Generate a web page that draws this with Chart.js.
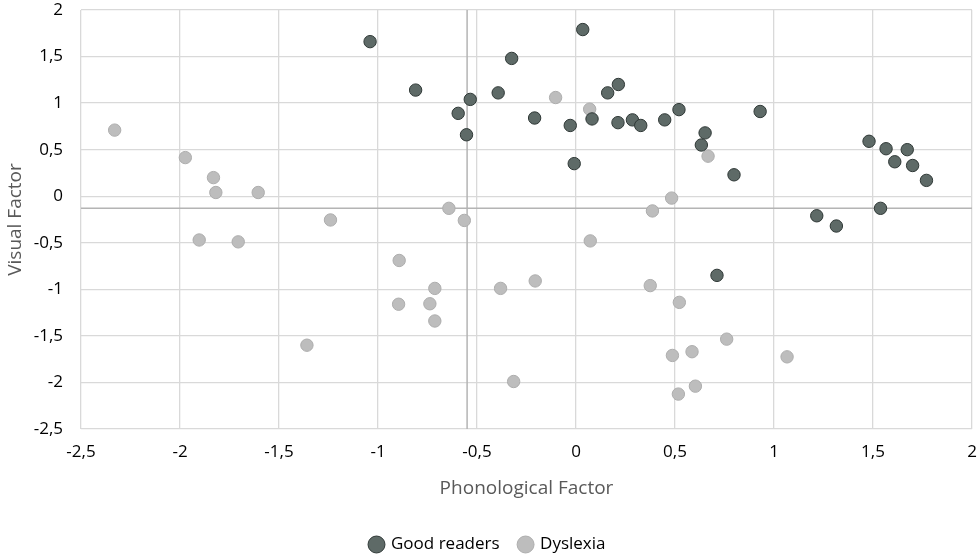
<!DOCTYPE html>
<html>
<head>
<meta charset="utf-8">
<script src="https://cdn.jsdelivr.net/npm/chart.js@4"></script>
<style>
  html, body { margin: 0; padding: 0; background: #fff; }
  #wrap { width: 980px; height: 558px; }
</style>
</head>
<body>
<div id="wrap"><canvas id="chart"></canvas></div>
<script>
// Good readers: phonological (x) and visual (y) factor scores
const goodX = [-1.04, -0.81, -0.595, -0.534, -0.553, -0.393, -0.325, -0.209, -0.029, -0.009, 0.034,
  0.081, 0.16, 0.214, 0.212, 0.285, 0.327, 0.448, 0.52, 0.652, 0.633, 0.798, 0.93, 1.216, 1.315,
  1.48, 1.566, 1.538, 1.61, 1.673, 1.70, 1.77, 0.712];
const goodY = [1.66, 1.14, 0.89, 1.04, 0.66, 1.11, 1.48, 0.84, 0.76, 0.35, 1.79,
  0.83, 1.11, 1.20, 0.79, 0.82, 0.76, 0.82, 0.93, 0.68, 0.55, 0.23, 0.91, -0.21, -0.32,
  0.59, 0.51, -0.13, 0.37, 0.50, 0.33, 0.17, -0.85];

// Dyslexia group
const dysX = [-2.33, -1.973, -1.831, -1.819, -1.605, -1.903, -1.706, -1.24, -0.642, -0.564, -0.103,
  0.069, 0.072, -0.893, -0.206, 0.386, 0.483, 0.667, -1.359, -0.713, -0.896, -0.738, -0.713,
  -0.381, -0.315, 0.375, 0.522, 0.761, 0.487, 0.586, 1.066, 0.603, 0.517];
const dysY = [0.71, 0.415, 0.20, 0.04, 0.04, -0.47, -0.49, -0.255, -0.13, -0.26, 1.06,
  0.935, -0.48, -0.69, -0.91, -0.158, -0.02, 0.43, -1.60, -0.99, -1.16, -1.155, -1.34,
  -0.99, -1.99, -0.96, -1.14, -1.535, -1.71, -1.67, -1.725, -2.04, -2.125];

// group means (reference lines)
const meanX = -0.55;
const meanY = -0.13;

// axis ranges
const xMin = -2.5, xMax = 2;
const yMin = -2.5, yMax = 2;

function toPoints(xs, ys) {
  return xs.map((x, i) => ({ x: x, y: ys[i] }));
}

// decimal comma like the original
function commaTick(v) {
  return String(v).replace('.', ',');
}

const font = "'Open Sans', 'Noto Sans', sans-serif";

const config = {
  type: 'scatter',
  data: {
    datasets: [
      {
        label: 'Good readers',
        data: toPoints(goodX, goodY),
        backgroundColor: '#5e6a67',
        borderColor: '#2f3836',
        borderWidth: 1,
        pointRadius: 6.2,
        order: 1
      },
      {
        label: 'Dyslexia',
        data: toPoints(dysX, dysY),
        backgroundColor: '#bdbdbd',
        borderColor: '#adadad',
        borderWidth: 1,
        pointRadius: 6.2,
        order: 2
      },
      {
        label: 'meanX',
        data: [{ x: meanX, y: yMin }, { x: meanX, y: yMax }],
        showLine: true,
        borderColor: '#b4b4b4',
        borderWidth: 1.5,
        pointRadius: 0,
        order: 3
      },
      {
        label: 'meanY',
        data: [{ x: xMin, y: meanY }, { x: xMax, y: meanY }],
        showLine: true,
        borderColor: '#b4b4b4',
        borderWidth: 1.5,
        pointRadius: 0,
        order: 3
      }
    ]
  },
  options: {
    responsive: true,
    maintainAspectRatio: false,
    animation: false,
    layout: { padding: { top: 10, right: 8, left: 4, bottom: -5 } },
    plugins: {
      tooltip: { enabled: false },
      legend: {
        position: 'bottom',
        labels: {
          // hide the reference lines from the legend:
          filter: (item) => item.datasetIndex < 2,
          usePointStyle: true,
          pointStyle: 'circle',
          boxWidth: 12,
          boxHeight: 12,
          padding: 20,
          color: '#000',
          font: { family: font, size: 17 }
        }
      }
    },
    scales: {
      x: {
        type: 'linear',
        min: xMin,
        max: xMax,
        ticks: {
          stepSize: 0.5,
          color: '#000',
          padding: 13,
          font: { family: font, size: 17 },
          callback: commaTick
        },
        grid: { color: '#d9d9d9', lineWidth: 1.3, drawTicks: false },
        border: { display: false },
        title: {
          display: true,
          text: 'Phonological Factor',
          color: '#595959',
          padding: { top: 10, bottom: 16 },
          font: { family: font, size: 19 }
        },
        afterFit: (s) => {
          s.height = 87;
          s.paddingLeft = 0;
          s.paddingRight = 0;
        }
      },
      y: {
        type: 'linear',
        min: yMin,
        max: yMax,
        ticks: {
          stepSize: 0.5,
          color: '#000',
          padding: 18,
          font: { family: font, size: 17 },
          callback: commaTick
        },
        grid: { color: '#d9d9d9', lineWidth: 1.3, drawTicks: false },
        border: { display: false },
        title: {
          display: true,
          text: 'Visual Factor',
          color: '#595959',
          padding: { top: 0, bottom: 0 },
          font: { family: font, size: 19 }
        },
        afterFit: (s) => {
          s.width = 77;
          s.paddingTop = 0;
          s.paddingBottom = 0;
        }
      }
    }
  }
};

const chart = new Chart(document.getElementById('chart'), config);
</script>
</body>
</html>
